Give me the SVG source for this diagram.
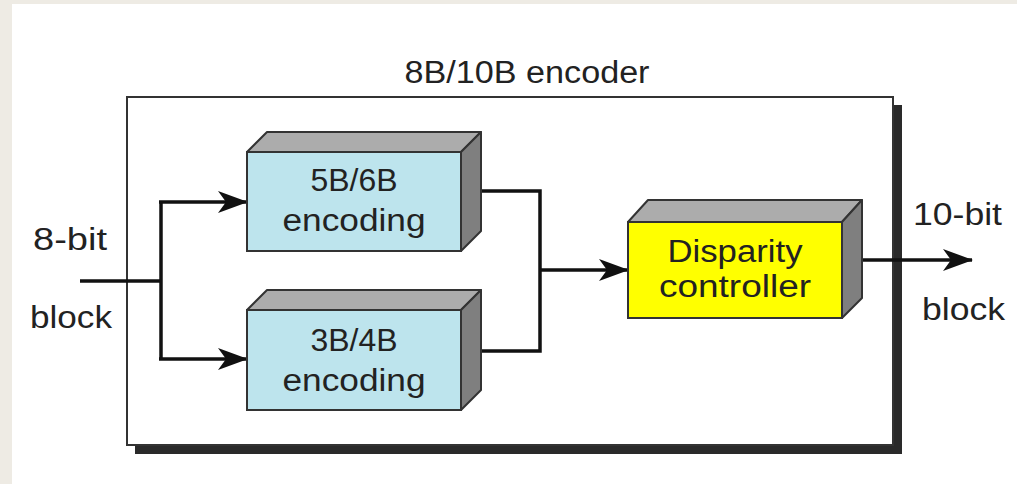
<svg xmlns="http://www.w3.org/2000/svg" width="1017" height="484" viewBox="0 0 1017 484">
<style>
.t{font-family:"Liberation Sans",Arial,sans-serif;font-size:31px;fill:#222}
.m{text-anchor:middle}
.front{fill:#BDE4ED;stroke:#333;stroke-width:2}
.yel{fill:#FFFF00;stroke:#333;stroke-width:2}
.top{fill:#ACACAC;stroke:#333;stroke-width:2;stroke-linejoin:round}
.side{fill:#7F7F7F;stroke:#333;stroke-width:2;stroke-linejoin:round}
.c{fill:none;stroke:#111;stroke-width:3.5}
</style>
<defs>
<marker id="ah" viewBox="0 0 30 22" refX="29" refY="11" markerWidth="30" markerHeight="22" markerUnits="userSpaceOnUse" orient="auto">
<path d="M0,0 L30,11 L0,22 L8,11 Z" fill="#111"/>
</marker>
</defs>
<rect x="0" y="0" width="1017" height="484" fill="#fff"/>
<rect x="0" y="0" width="1017" height="4" fill="#EEEBE4"/>
<rect x="0" y="0" width="12" height="484" fill="#EEEBE4"/>
<g id="encoder">
<rect x="135" y="105" width="767" height="349" fill="#2a2a2a"/>
<rect x="127" y="97" width="766" height="348" fill="#fff" stroke="#333" stroke-width="2"/>
<text class="t m" x="527" y="83" textLength="245" lengthAdjust="spacingAndGlyphs">8B/10B encoder</text>
</g>
<g id="connectors">
<path class="c" d="M80,281 H161"/>
<path class="c" d="M161,201 V360"/>
<path class="c" d="M159,202 H247" marker-end="url(#ah)"/>
<path class="c" d="M159,359 H247" marker-end="url(#ah)"/>
<path class="c" d="M472,191 H540 V351 H472"/>
<path class="c" d="M540,270 H628" marker-end="url(#ah)"/>
<path class="c" d="M853,260 H972" marker-end="url(#ah)"/>
</g>
<g id="in-label">
<text class="t" x="33" y="250" textLength="74" lengthAdjust="spacingAndGlyphs">8-bit</text>
<text class="t" x="30" y="328" textLength="82" lengthAdjust="spacingAndGlyphs">block</text>
</g>
<g id="out-label">
<text class="t" x="913" y="225" textLength="89" lengthAdjust="spacingAndGlyphs">10-bit</text>
<text class="t" x="922" y="320" textLength="83" lengthAdjust="spacingAndGlyphs">block</text>
</g>
<g id="enc56">
<polygon class="top" points="247,152 267,132 481,132 461,152"/>
<polygon class="side" points="461,152 481,132 481,231 461,251"/>
<rect class="front" x="247" y="152" width="214" height="99"/>
<text class="t m" x="354" y="191" textLength="87" lengthAdjust="spacingAndGlyphs">5B/6B</text>
<text class="t m" x="354" y="231" textLength="143" lengthAdjust="spacingAndGlyphs">encoding</text>
</g>
<g id="enc34">
<polygon class="top" points="247,310 267,290 481,290 461,310"/>
<polygon class="side" points="461,310 481,290 481,390 461,410"/>
<rect class="front" x="247" y="310" width="214" height="100"/>
<text class="t m" x="354" y="351" textLength="87" lengthAdjust="spacingAndGlyphs">3B/4B</text>
<text class="t m" x="354" y="391" textLength="143" lengthAdjust="spacingAndGlyphs">encoding</text>
</g>
<g id="disparity">
<polygon class="top" points="628,222 648,200 862,200 842,222"/>
<polygon class="side" points="842,222 862,200 862,298 842,318"/>
<rect class="yel" x="628" y="222" width="214" height="96"/>
<text class="t m" x="735" y="262" textLength="135" lengthAdjust="spacingAndGlyphs">Disparity</text>
<text class="t m" x="735" y="297" textLength="152" lengthAdjust="spacingAndGlyphs">controller</text>
</g>
</svg>
